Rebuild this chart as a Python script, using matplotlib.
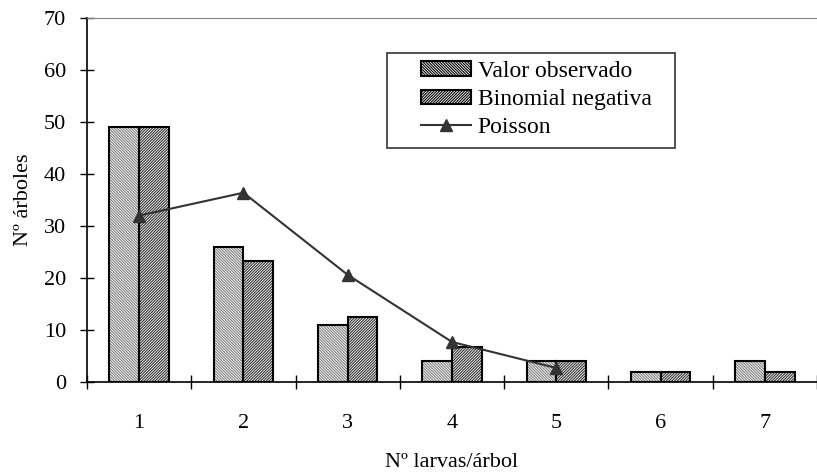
import matplotlib
matplotlib.use("Agg")
import matplotlib.pyplot as plt
from matplotlib.patches import Patch, Rectangle
import numpy as np

categories = [1, 2, 3, 4, 5, 6, 7]
observado = [49, 26, 11, 4, 4, 2, 4]
binomial = [49, 23.2, 12.5, 6.7, 4, 2, 2]
poisson = [32, 36.4, 20.6, 7.7, 2.7]

plt.rcParams['font.family'] = ['Liberation Serif', 'DejaVu Serif']
plt.rcParams['hatch.linewidth'] = 0.8

fig = plt.figure(figsize=(8.17, 4.73), dpi=100)
ax = fig.add_axes([0.1065, 0.1924, 0.8935, 0.7696])

x = np.array(categories, dtype=float)
w = 0.285
obs_hatch = '\\' * 12
bin_hatch = '/' * 12
# hatch fills
ax.bar(x - w/2, observado, width=w, facecolor='white', edgecolor='#808080',
       hatch=obs_hatch, linewidth=0, zorder=2)
ax.bar(x + w/2, binomial, width=w, facecolor='white', edgecolor='#303030',
       hatch=bin_hatch, linewidth=0, zorder=2)
# outlines
ax.bar(x - w/2, observado, width=w, facecolor='none', edgecolor='black',
       linewidth=1.5, zorder=2.5)
ax.bar(x + w/2, binomial, width=w, facecolor='none', edgecolor='black',
       linewidth=1.5, zorder=2.5)
line, = ax.plot(categories[:len(poisson)], poisson, color='#333333', linewidth=1.5,
                marker='^', markersize=9, zorder=3)

ax.set_xlim(0.5, 7.5)
ax.set_ylim(0, 70)
ax.set_yticks(np.arange(0, 71, 10))
ax.set_xticks(np.arange(0.5, 7.6, 1.0))
ax.set_xticklabels([])
ax.set_xticks(categories, minor=True)
ax.set_xticklabels([str(c) for c in categories], minor=True)
ax.tick_params(axis='x', which='major', direction='inout', length=10, width=1)
ax.tick_params(axis='x', which='minor', length=0, pad=23, labelsize=16)
ax.tick_params(axis='y', direction='inout', length=10, width=1, labelsize=16, pad=10)

ax.spines['right'].set_visible(False)
ax.spines['top'].set_color('#888888')
ax.spines['left'].set_linewidth(1.2)
ax.spines['bottom'].set_linewidth(1.2)

ax.set_ylabel('Nº árboles', fontsize=16, labelpad=8)
ax.set_xlabel('Nº larvas/árbol', fontsize=16)
ax.xaxis.set_label_coords((452-87)/730, -0.195)

# legend box
ax.add_patch(Rectangle((0.411, 0.643), 0.395, 0.261, transform=ax.transAxes,
                       facecolor='white', edgecolor='#333333', linewidth=1.2,
                       zorder=4, clip_on=False))
h1 = Patch(facecolor='white', edgecolor='#808080', hatch=obs_hatch, linewidth=1.5)
h2 = Patch(facecolor='white', edgecolor='#303030', hatch=bin_hatch, linewidth=1.5)
leg = ax.legend([h1, h2, line], ['Valor observado', 'Binomial negativa', 'Poisson'],
                loc='upper left', bbox_to_anchor=(0.4575, 0.882),
                frameon=False, fontsize=17,
                handlelength=2.1, handleheight=0.55, handletextpad=0.3,
                borderpad=0, labelspacing=0.3, borderaxespad=0)
leg.set_zorder(5)
for p in leg.get_patches():
    p.set_edgecolor('black')

fig.savefig('out.png', dpi=100)
